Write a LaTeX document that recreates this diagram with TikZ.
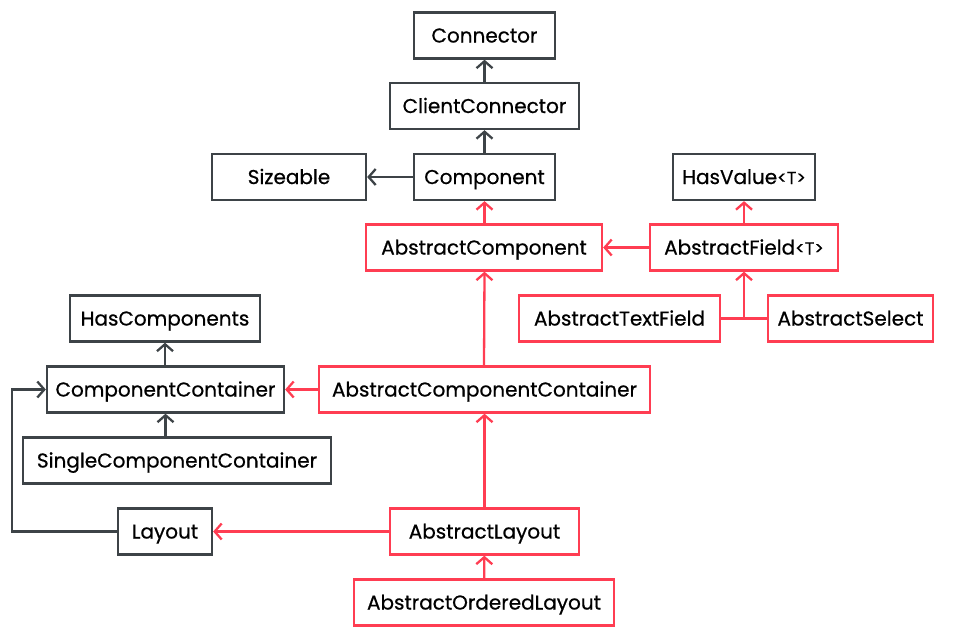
\documentclass[tikz,border=0pt]{standalone}
\usepackage{fontspec}
\setmainfont{Poppins}[FakeBold=0.6]
\usetikzlibrary{arrows.meta}
\definecolor{dk}{HTML}{3D4347}
\definecolor{rd}{HTML}{FF3D52}
\newcommand{\gT}{{\fontsize{17.5}{19}\selectfont<T>}}
\tikzset{
  box/.style={draw=dk, line width=2.3pt, minimum height=46pt, inner sep=0pt, text=black, text height=14pt, text depth=0pt, font=\fontsize{20}{22}\selectfont},
  rbox/.style={box, draw=rd},
  gl/.style={draw=dk, line width=2.3pt, -{Straight Barb[length=7pt,width=16pt,line width=2.3pt]}},
  rl/.style={gl, draw=rd},
}
\begin{document}
\begin{tikzpicture}[x=1pt,y=-1pt]
\useasboundingbox (0,0) rectangle (969,638);
\node[box, minimum width=141pt] (con) at (484.5,35.5) {Connector};
\node[box, minimum width=189pt] (cc) at (484.5,106) {ClientConnector};
\node[box, minimum width=154pt] (siz) at (289,177) {Sizeable};
\node[box, minimum width=141pt] (comp) at (484.5,177) {Component};
\node[box, minimum width=142pt] (hv) at (744,177) {HasValue\gT};
\node[rbox, minimum width=236pt] (ac) at (484,247.5) {AbstractComponent};
\node[rbox, minimum width=188pt] (af) at (744,247.5) {AbstractField\gT};
\node[box, minimum width=190pt] (hc) at (165,318.5) {HasComponents};
\node[rbox, minimum width=201pt] (atf) at (619.5,318.5) {AbstractTextField};
\node[rbox, minimum width=165pt] (as) at (850.5,318.5) {AbstractSelect};
\node[box, minimum width=237pt] (ccn) at (165.5,389.5) {ComponentContainer};
\node[rbox, minimum width=331pt] (acc) at (484.5,389.5) {AbstractComponentContainer};
\node[box, minimum width=308pt] (scc) at (177,460.5) {SingleComponentContainer};
\node[box, minimum width=94pt] (lay) at (165,531.5) {Layout};
\node[rbox, minimum width=189pt] (al) at (484.5,531.5) {AbstractLayout};
\node[rbox, minimum width=260pt] (aol) at (484,602.5) {AbstractOrderedLayout};
\coordinate (j) at (744,318.5);
\coordinate (lc) at (12,531.5);
\draw[gl] (cc) -- (con);
\draw[gl] (comp) -- (cc);
\draw[gl] (comp) -- (siz);
\draw[rl] (ac.north -| comp) -- (comp);
\draw[rl] (af) -- (ac);
\draw[rl] (af) -- (hv);
\draw[rl, -] (atf) -- (as);
\draw[rl] (j) -- (af);
\draw[rl] (acc.north -| ac) -- (ac.south -| acc);
\draw[rl] (acc) -- (ccn);
\draw[gl] (ccn.north -| hc) -- (hc);
\draw[gl] (scc.north -| ccn) -- (ccn.south -| ccn);
\draw[gl] (lay.west) -- (lc) |- (ccn.west);
\draw[rl] (al) -- (lay);
\draw[rl] (al) -- (acc);
\draw[rl] (aol) -- (al);
\end{tikzpicture}
\end{document}
